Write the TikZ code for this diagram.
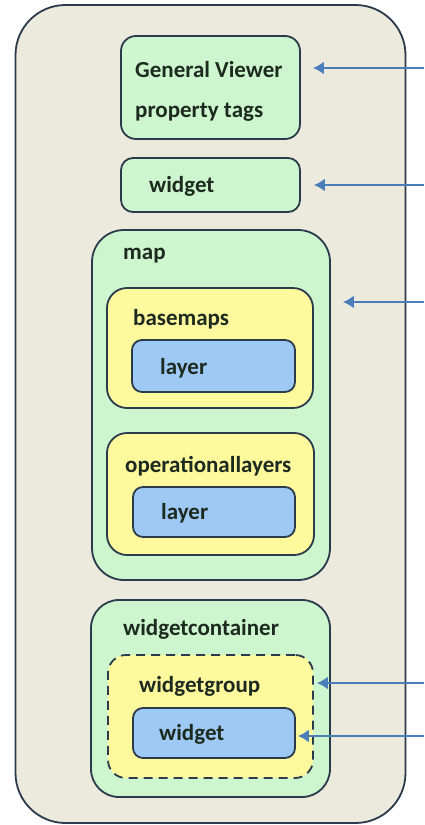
\documentclass[tikz,border=0pt]{standalone}
\usepackage{fontspec}
\setmainfont{Carlito}
\usetikzlibrary{arrows.meta}

\definecolor{shell}{HTML}{ECEADC}
\definecolor{edge}{HTML}{2B3B4C}
\definecolor{mint}{HTML}{CEF6CE}
\definecolor{butter}{HTML}{FFF99E}
\definecolor{sky}{HTML}{9DC9F4}
\definecolor{pointer}{HTML}{4A7EBB}
\definecolor{ink}{HTML}{1D2A1F}

\begin{document}
\begin{tikzpicture}[x=1pt, y=-1pt,
  panel/.style={rectangle, draw=edge, line width=1.8pt, inner sep=0pt},
  tag/.style={anchor=base west, inner sep=0pt, text=ink, yshift=-7pt,
              font=\fontsize{23}{28}\selectfont\bfseries},
  feed/.style={draw=pointer, line width=2.6pt,
               -{Latex[length=11pt, width=13pt]}}
]
\useasboundingbox (0,0) rectangle (424,825);
\fill[white] (0,0) rectangle (424,825);

% configuration file frame
\node[panel, fill=shell, rounded corners=50pt,
      minimum width=390pt, minimum height=818pt] (cfg) at (210.5,414) {};

% top-level tags
\node[panel, fill=mint, rounded corners=15pt,
      minimum width=179pt, minimum height=103pt] (gv) at (210.5,87.5) {};
\node[tag] (gvA) at (135,70) {General Viewer};
\node[tag] (gvB) at (135,110) {property tags};

\node[panel, fill=mint, rounded corners=12pt,
      minimum width=179pt, minimum height=54pt] (wtop) at (210.5,185) {};
\node[tag] (wtopT) at (149,185) {widget};

% map section
\node[panel, fill=mint, rounded corners=32pt,
      minimum width=238pt, minimum height=350pt] (map) at (211,405) {};
\node[tag] (mapT) at (123,252) {map};

\node[panel, fill=butter, rounded corners=20pt,
      minimum width=206pt, minimum height=120pt] (base) at (210,348) {};
\node[tag] (baseT) at (133,318) {basemaps};
\node[panel, fill=sky, rounded corners=10pt,
      minimum width=163pt, minimum height=52pt] (lyrA) at (213.5,366) {};
\node[tag] (lyrAT) at (160,367) {layer};

\node[panel, fill=butter, rounded corners=20pt,
      minimum width=207pt, minimum height=122pt] (ops) at (210.5,494) {};
\node[tag] (opsT) at (125,465) {operationallayers};
\node[panel, fill=sky, rounded corners=10pt,
      minimum width=162pt, minimum height=50pt] (lyrB) at (214,512) {};
\node[tag] (lyrBT) at (161,512) {layer};

% widget container section
\node[panel, fill=mint, rounded corners=28pt,
      minimum width=239pt, minimum height=197pt] (wc) at (210.5,698.5) {};
\node[tag] (wcT) at (123,628) {widgetcontainer};

\node[panel, fill=butter, dashed, dash pattern=on 9pt off 6pt, rounded corners=18pt,
      minimum width=205pt, minimum height=123pt] (wg) at (210.5,716.5) {};
\node[tag] (wgT) at (139,685) {widgetgroup};
\node[panel, fill=sky, rounded corners=10pt,
      minimum width=162pt, minimum height=50pt] (wbl) at (214,733) {};
\node[tag] (wblT) at (159,733) {widget};

% incoming pointers from the right margin
\coordinate (s1) at (424,68);
\coordinate (s2) at (424,185);
\coordinate (s3) at (424,302);
\coordinate (s4) at (424,683);
\coordinate (s5) at (424,736);

\draw[feed, shorten >=12pt] (s1) -- (s1 -| gv.east);
\draw[feed, shorten >=13pt] (s2) -- (s2 -| wtop.east);
\draw[feed, shorten >=12pt] (s3) -- (s3 -| map.east);
\draw[feed, shorten >=3pt]  (s4) -- (s4 -| wg.east);
\draw[feed, shorten >=2pt]  (s5) -- (s5 -| wbl.east);
\end{tikzpicture}
\end{document}
